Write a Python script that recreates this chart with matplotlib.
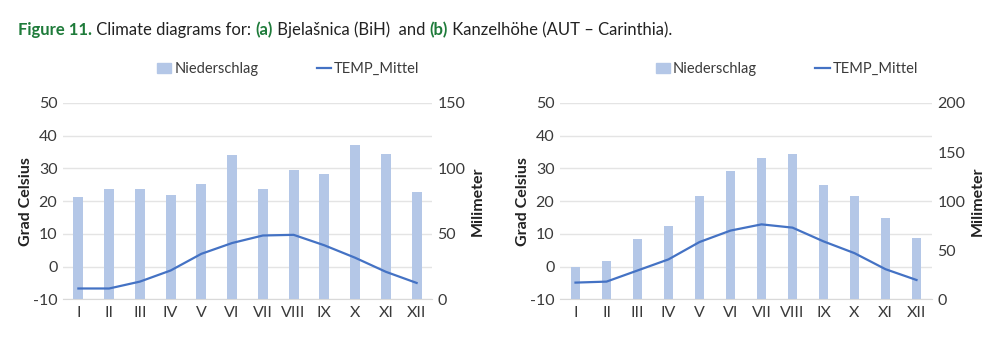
import numpy as np
import matplotlib
matplotlib.use("Agg")
import matplotlib.pyplot as plt
from matplotlib.patches import Patch
from matplotlib.lines import Line2D

plt.rcParams["font.family"] = ["Lato", "DejaVu Sans"]
plt.rcParams["axes.unicode_minus"] = False

months = ["I", "II", "III", "IV", "V", "VI", "VII", "VIII", "IX", "X", "XI", "XII"]

# (a) Bjelasnica
rain_a = [78, 84, 84, 80, 88, 110, 84, 99, 96, 118, 111, 82]
temp_a = [-6.7, -6.7, -4.6, -1.2, 3.9, 7.2, 9.5, 9.7, 6.5, 2.7, -1.6, -5.0]

# (b) Kanzelhoehe
rain_b = [33, 39, 61, 75, 105, 131, 144, 148, 116, 105, 83, 62]
temp_b = [-4.9, -4.6, -1.2, 2.2, 7.5, 11.0, 12.9, 11.9, 7.7, 4.1, -0.8, -4.1]

bar_col = "#B4C7E7"
line_col = "#4472C4"
txt_col = "#3A3A3A"
grid_col = "#E4E4E4"

fig = plt.figure(figsize=(10, 3.45), dpi=100)


def climate(rect, rain, temp, mm_max, mm_step):
    x = np.arange(len(months))
    ax = fig.add_axes(rect)
    ax2 = ax.twinx()
    ax3 = ax.twinx()

    ax.set_ylim(-10, 50)
    ax.set_yticks(range(-10, 51, 10))
    ax.yaxis.grid(True, color=grid_col, linewidth=1)
    ax.set_axisbelow(True)
    ax.set_xlim(-0.5, len(months) - 0.5)
    ax.set_xticks(x)
    ax.set_xticklabels(months)
    ax.set_ylabel("Grad Celsius", fontsize=11.5, fontweight="bold", color="#222222", labelpad=0)

    ax2.bar(x, rain, width=0.32, color=bar_col, zorder=2)
    ax2.set_ylim(0, mm_max)
    ax2.set_yticks(range(0, mm_max + 1, mm_step))
    ax2.set_ylabel("Milimeter", fontsize=11.5, fontweight="bold", color="#222222", labelpad=4)

    ax3.plot(x, temp, color=line_col, linewidth=1.6)
    ax3.set_ylim(-10, 50)
    ax3.axis("off")

    for a in (ax, ax2):
        for s in a.spines.values():
            s.set_visible(False)
        a.tick_params(length=0, labelsize=11.5, colors=txt_col, pad=4)
    ax.spines["bottom"].set_visible(True)
    ax.spines["bottom"].set_color("#D9D9D9")
    ax.tick_params(axis="x", pad=5)

    handles = [Patch(color=bar_col), Line2D([], [], color=line_col, linewidth=1.6)]
    ax.legend(handles, ["Niederschlag", "TEMP_Mittel"], loc="lower center",
              bbox_to_anchor=(0.61, 1.07), ncol=2, frameon=False, fontsize=10.5,
              handlelength=1.0, handletextpad=0.2, columnspacing=4.0,
              labelcolor=txt_col)
    return ax


climate([0.063, 0.1325, 0.369, 0.569], rain_a, temp_a, 150, 50)
climate([0.560, 0.1325, 0.372, 0.569], rain_b, temp_b, 200, 50)

# title with mixed styles
green = "#1E7B3A"
parts = [("Figure 11.", "bold", green), (" Climate diagrams for: ", "normal", "#222222"),
         ("(a)", "bold", green), (" Bjelašnica (BiH)  and ", "normal", "#222222"),
         ("(b)", "bold", green), (" Kanzelhöhe (AUT – Carinthia).", "normal", "#222222")]
renderer = fig.canvas.get_renderer()
xpos = 18
for s, w, c in parts:
    t = fig.text(xpos / 1000, 1 - 35 / 345, s, fontsize=12, fontweight=w, color=c,
                 ha="left", va="baseline")
    bb = t.get_window_extent(renderer=renderer)
    xpos += bb.width

fig.savefig("out.png", dpi=100)
